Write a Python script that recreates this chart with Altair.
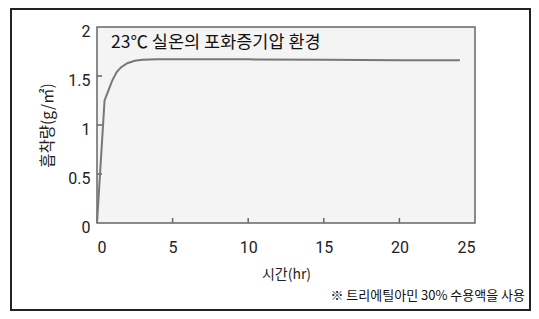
import altair as alt
import pandas as pd

# data
hours = [0, 0.42, 0.5, 0.7, 1.0, 1.3, 1.6, 2.0, 2.5, 3.0, 4.0, 6.0, 10.0, 15.0, 20.0, 24.0]
adsorption = [0, 1.05, 1.25, 1.33, 1.45, 1.54, 1.59, 1.63, 1.655, 1.665, 1.67, 1.67, 1.67, 1.665, 1.66, 1.66]
x_ticks = [0, 5, 10, 15, 20, 25]
y_ticks = [0, 0.5, 1, 1.5, 2]
x_inner_ticks = [5, 10, 15, 20]
y_inner_ticks = [0.5, 1, 1.5]
title_text = "23℃ 실온의 포화증기압 환경"
x_title = "시간(hr)"
y_title = "흡착량(g/㎡)"
note_text = "※ 트리에틸아민 30% 수용액을 사용"

NUM_FONT = "Roboto, Liberation Sans, sans-serif"
KR_FONT = "Noto Sans CJK KR, Noto Sans, sans-serif"

W, H = 378, 196

df = pd.DataFrame({"t": hours, "v": adsorption})
xs = alt.Scale(domain=[0, 25], nice=False)
ys = alt.Scale(domain=[0, 2], nice=False)

line = alt.Chart(df).mark_line(color="#777777", strokeWidth=2).encode(
    x=alt.X("t:Q", scale=xs,
            axis=alt.Axis(values=x_ticks, title=x_title, grid=False, ticks=False, domain=False,
                          labelFont=NUM_FONT, labelFontSize=16, labelColor="#222222",
                          labelPadding=16, titleFont=KR_FONT, titleFontSize=14,
                          titleFontWeight="normal", titleColor="#222222", titlePadding=12)),
    y=alt.Y("v:Q", scale=ys,
            axis=alt.Axis(values=y_ticks, format="~g", title=y_title, grid=False, ticks=False,
                          domain=False, labelFont=NUM_FONT, labelFontSize=16, labelOffset=4,
                          labelColor="#222222", labelPadding=7, titleFont=KR_FONT,
                          titleFontSize=15.5, titleFontWeight="normal", titleColor="#222222",
                          titlePadding=12)),
)

xt = alt.Chart(pd.DataFrame({"t": x_inner_ticks})).mark_rule(color="#666666", strokeWidth=1.5).encode(
    x=alt.X("t:Q", scale=xs), y=alt.value(H), y2=alt.value(H - 5))
yt = alt.Chart(pd.DataFrame({"v": y_inner_ticks})).mark_rule(color="#666666", strokeWidth=1.5).encode(
    y=alt.Y("v:Q", scale=ys), x=alt.value(0), x2=alt.value(5))

one = pd.DataFrame({"a": [0]})
title = alt.Chart(one).mark_text(text=title_text, font=KR_FONT, fontSize=17.5, align="left",
                                 baseline="middle", color="#111111").encode(
    x=alt.value(14), y=alt.value(16))
note = alt.Chart(one).mark_text(text=note_text, font=KR_FONT, fontSize=13, align="right",
                                baseline="middle", color="#111111").encode(
    x=alt.value(428), y=alt.value(269))
frame = alt.Chart(one).mark_rect(filled=False, stroke="#222222", strokeWidth=2).encode(
    x=alt.value(-86), x2=alt.value(433), y=alt.value(-18), y2=alt.value(283))

chart = alt.layer(frame, xt, yt, line, title, note).properties(
    width=W, height=H,
    autosize=alt.AutoSizeParams(type="none"),
    padding={"left": 89, "top": 19, "right": 56, "bottom": 88},
    background="white",
).configure_view(stroke="#666666", strokeWidth=1.5, fill="#f4f4f4")

chart.save("out.html", embed_options={"renderer": "svg", "actions": False})
